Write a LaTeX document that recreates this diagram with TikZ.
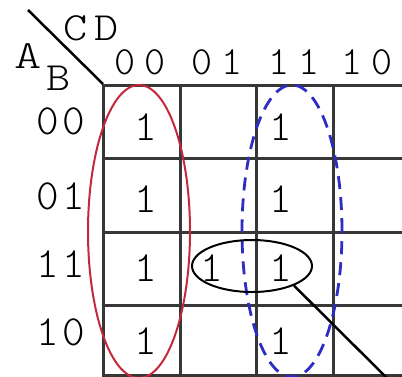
\documentclass[tikz,border=0pt]{standalone}
\usepackage{fontspec}
\newfontfamily\kmapfont{lmmonolt10-regular.otf}
\usepackage{tikz}
\usetikzlibrary{shapes.geometric}
\usepackage{xcolor}
\definecolor{gridgray}{RGB}{55, 55, 55}
\definecolor{loopred}{RGB}{195, 40, 60}
\definecolor{loopblue}{RGB}{45, 45, 195}

\begin{document}
\begin{tikzpicture}[x=1pt, y=-1pt,
  lbl/.style={font=\kmapfont\addfontfeature{LetterSpace=8}\fontsize{43}{43}\selectfont, inner sep=0pt},
  hdr/.style={font=\kmapfont\addfontfeature{LetterSpace=22}\fontsize{40}{40}\selectfont, inner sep=0pt},
  varname/.style={font=\kmapfont\addfontfeature{LetterSpace=14}\fontsize{40}{40}\selectfont, inner sep=0pt},
  gridline/.style={gridgray, line width=3pt},
  group/.style={ellipse, draw, inner sep=0pt}]

  \useasboundingbox (0,0) rectangle (402,376);
  \clip (0,0) rectangle (402,376);

  % Map grid, running off the right and bottom edges
  \foreach \x in {103,180,256,333}
    \draw[gridline] (\x,84) -- (\x,380);
  \foreach \y in {85,158,232,305,375}
    \draw[gridline] (101.5,\y) -- (410,\y);

  % Corner split and variable names
  \draw[line width=2.5pt] (28,10) -- (103,84);
  \node[varname] (cd) at (91,28) {\scalebox{1.15}[1]{CD}};
  \node[varname] (a) at (28,56) {\scalebox{1.3}[1]{A}};
  \node[varname] (b) at (59,78) {\scalebox{1.15}[1]{B}};

  % Column and row headings
  \node[hdr] (c00) at (140,62) {00};
  \node[hdr] (c01) at (217,62) {01};
  \node[hdr] (c11) at (294,62) {11};
  \node[hdr] (c10) at (367,62) {10};
  \node[lbl] (r00) at (61,121) {00};
  \node[lbl] (r01) at (61,196) {01};
  \node[lbl] (r11) at (61,264) {11};
  \node[lbl] (r10) at (61,332) {10};

  % Minterms
  \foreach \y/\r in {127/a, 199/b, 268/c, 341/d} {
    \node[lbl] (one0\r) at (146,\y) {1};
    \node[lbl] (one3\r) at (281,\y) {1};
  }
  \node[lbl] (one1c) at (212,268) {1};

  % Groupings
  \node[group, loopred, line width=2pt, minimum width=102pt, minimum height=293pt] (quadred) at (139,231.5) {};
  \node[group, loopblue, line width=2.8pt, dash pattern=on 13pt off 8pt, minimum width=100pt, minimum height=292pt] (quadblue) at (292,231) {};
  \node[group, black, line width=2pt, minimum width=120pt, minimum height=52pt] (pair) at (252,266) {};

  % Pointer leaving the pair
  \coordinate (tail) at (402,393);
  \draw[line width=2.5pt] (pair.-25) -- (tail);

\end{tikzpicture}
\end{document}
